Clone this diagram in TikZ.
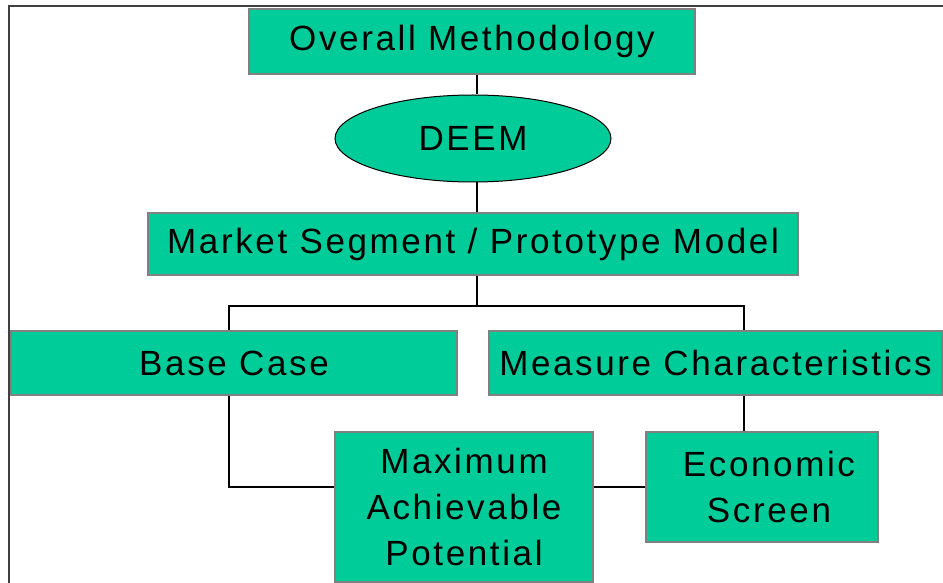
\documentclass[tikz,border=0pt]{standalone}
\usepackage{fontspec}
\setmainfont{Liberation Sans}[LetterSpace=7.5]
\usepackage{tikz}
\usetikzlibrary{shapes.geometric}
\definecolor{boxgreen}{RGB}{0,204,153}
\definecolor{boxedge}{RGB}{128,128,128}
\definecolor{frameline}{RGB}{64,64,64}

\begin{document}
\begin{tikzpicture}[x=0.5pt,y=-0.5pt,
      box/.style={draw=boxedge,line width=1.2pt,fill=boxgreen,inner sep=0pt,
        align=center,font=\fontsize{17.5}{23}\selectfont},
      oval/.style={ellipse,draw=black,line width=0.5pt,fill=boxgreen,inner sep=0pt,
        font=\fontsize{17.5}{23}\selectfont},
      link/.style={draw=black,line width=0.7pt}
      ]
      \useasboundingbox (0,0) rectangle (943,583);
      \draw[frameline,line width=1pt] (9,583) -- (9,6) -- (943,6);

      \node[box, minimum width=223pt, minimum height=32.5pt] (ovr) at (472,41.5) {Overall Methodology};
      \node[oval, minimum width=138pt, minimum height=43.5pt] (deem) at (473,138.5) {DEEM};
      \node[box, minimum width=325pt, minimum height=31pt] (mkt) at (473,244) {Market Segment / Prototype Model};

      \node[box, minimum width=223pt, minimum height=32pt] (base) at (234,363) {Base Case};
      \node[box, minimum width=226.5pt, minimum height=32pt] (meas) at (715.5,363) {Measure Characteristics};

      \node[box, minimum width=129pt, minimum height=75pt] (map) at (464,507) {Maximum\\Achievable\\Potential};
      \node[box, minimum width=116pt, minimum height=55pt] (econ) at (762,487) {\hspace*{7pt}Economic\\\hspace*{7pt}Screen};

      \coordinate (split) at (477,306);
      \coordinate (bj) at (229,306);
      \coordinate (mj) at (744,306);

      \draw[link] (ovr.south -| split) -- (deem.north -| split);
      \draw[link] (deem.south -| split) -- (mkt.north -| split);
      \draw[link] (mkt.south -| split) -- (split);
      \draw[link] (base.north -| bj) -- (bj) -- (mj) -- (meas.north -| mj);

      \draw[link] (base.south -| bj) |- (map.west |- econ.west);
      \draw[link] (map.east |- econ.west) -- (econ.west);
      \draw[link] (meas.south -| mj) -- (econ.north -| mj);
    \end{tikzpicture}
\end{document}
